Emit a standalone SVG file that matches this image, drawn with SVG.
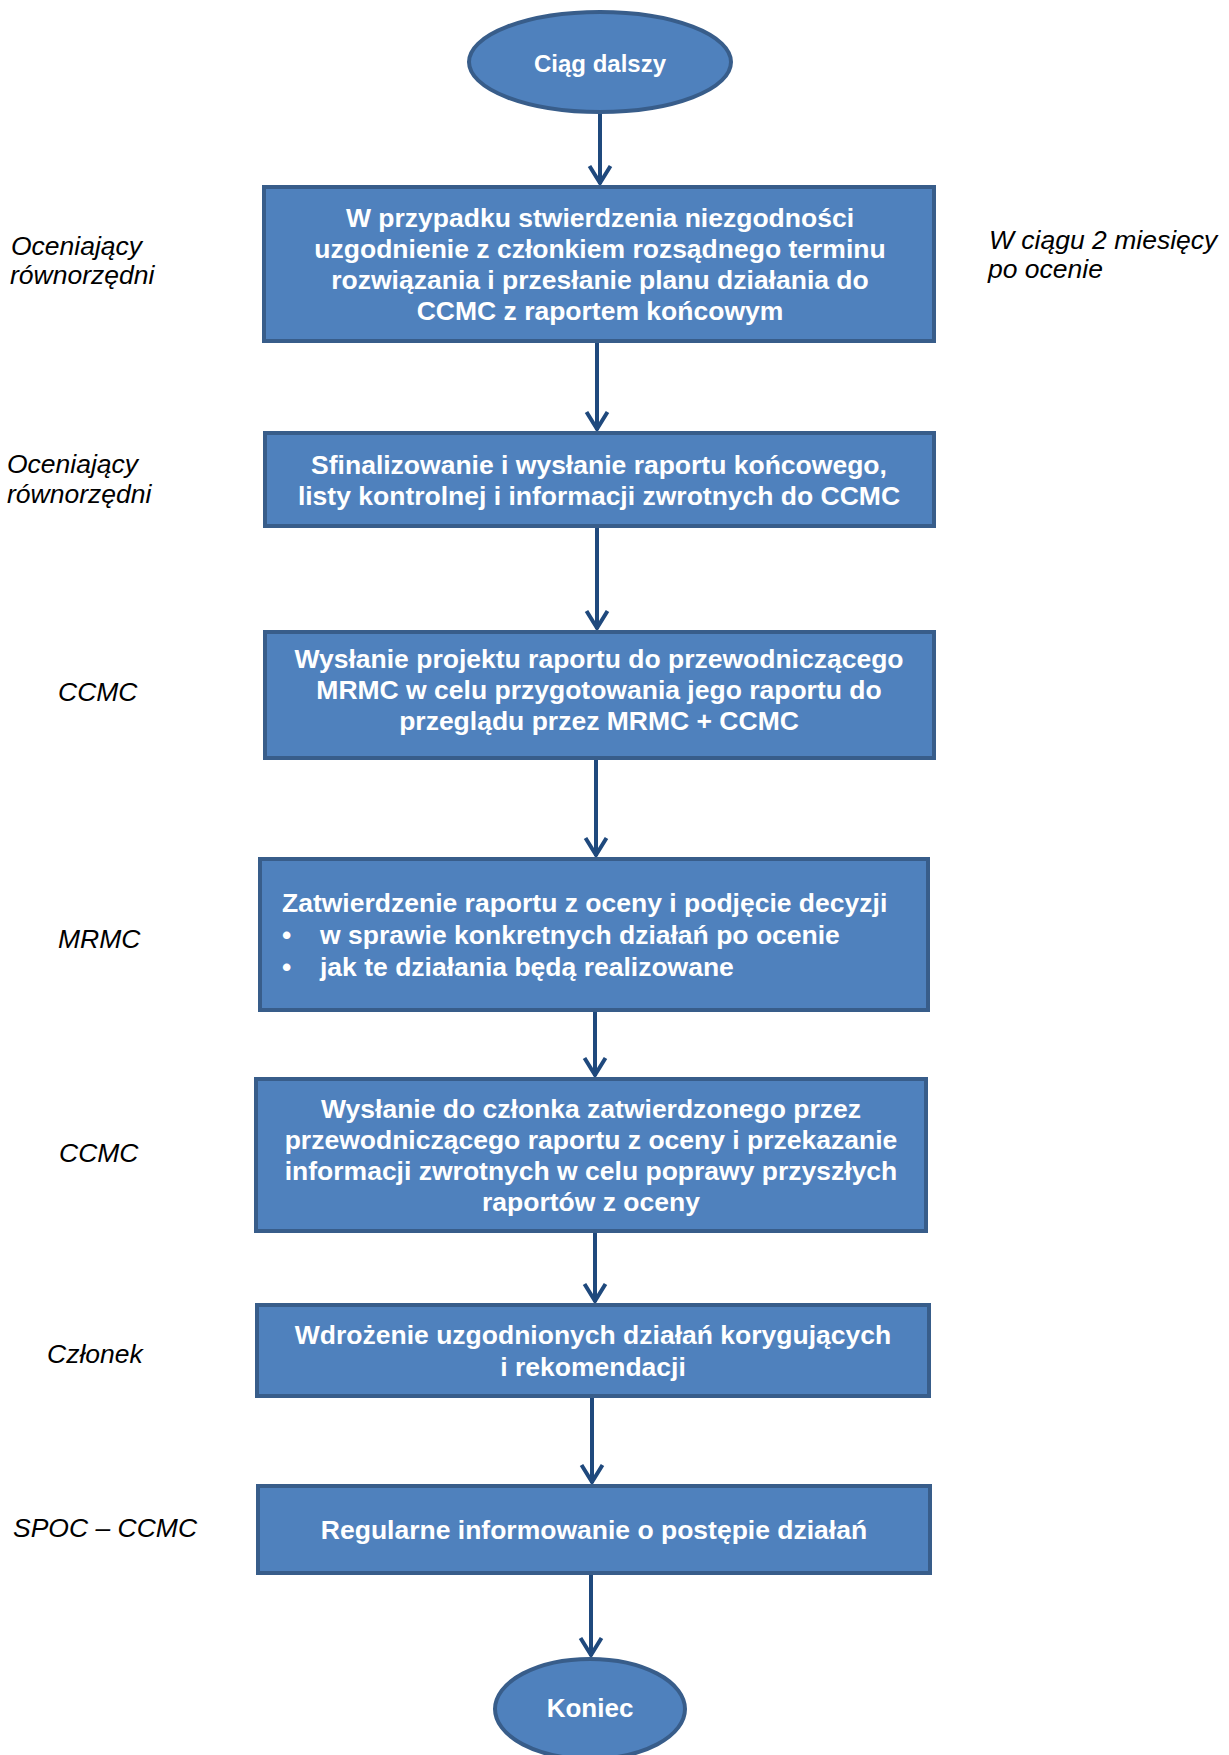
<svg xmlns="http://www.w3.org/2000/svg" width="1229" height="1755" viewBox="0 0 1229 1755">
  <defs>
    <style>
      .box { fill: #4F81BD; stroke: #385D8A; stroke-width: 4; }
      .term { fill: #4F81BD; stroke: #385D8A; stroke-width: 4; }
      .t { font-family: "Liberation Sans", Arial, sans-serif; font-weight: bold; font-size: 26.5px; fill: #FFFFFF; text-anchor: middle; }
      .tl { font-family: "Liberation Sans", Arial, sans-serif; font-weight: bold; font-size: 26.5px; fill: #FFFFFF; }
      .lab { font-family: "Liberation Sans", Arial, sans-serif; font-style: italic; font-size: 26.5px; fill: #000000; }
      .conn line { stroke: #1F497D; stroke-width: 4; fill: none; }
    </style>
    <!-- open V arrowhead, drawn along +x so orient="auto" points it down the line -->
    <marker id="vhead" viewBox="0 0 24 26" refX="21" refY="13" markerWidth="24" markerHeight="26" markerUnits="userSpaceOnUse" orient="auto">
      <path d="M3,2.5 L20,13 L3,23.5" fill="none" stroke="#1F497D" stroke-width="4" stroke-linejoin="miter"/>
    </marker>
  </defs>

  <rect width="1229" height="1755" fill="#FFFFFF"/>

  <!-- connectors -->
  <g id="connectors" class="conn">
    <line x1="600" y1="113" x2="600" y2="184" marker-end="url(#vhead)"/>
    <line x1="597" y1="343" x2="597" y2="430" marker-end="url(#vhead)"/>
    <line x1="597" y1="528" x2="597" y2="629" marker-end="url(#vhead)"/>
    <line x1="596" y1="760" x2="596" y2="856" marker-end="url(#vhead)"/>
    <line x1="595" y1="1012" x2="595" y2="1076" marker-end="url(#vhead)"/>
    <line x1="595" y1="1233" x2="595" y2="1302" marker-end="url(#vhead)"/>
    <line x1="592" y1="1398" x2="592" y2="1483" marker-end="url(#vhead)"/>
    <line x1="591" y1="1575" x2="591" y2="1656" marker-end="url(#vhead)"/>
  </g>

  <!-- start terminator -->
  <g id="start">
    <ellipse class="term" cx="600" cy="62" rx="131" ry="50"/>
    <text class="t" x="600" y="72" style="font-size:24px">Ciąg dalszy</text>
  </g>

  <g id="step1">
    <rect class="box" x="264" y="187" width="670" height="154"/>
    <text class="t" x="600" y="227">W przypadku stwierdzenia niezgodności</text>
    <text class="t" x="600" y="258">uzgodnienie z członkiem rozsądnego terminu</text>
    <text class="t" x="600" y="289">rozwiązania i przesłanie planu działania do</text>
    <text class="t" x="600" y="320">CCMC z raportem końcowym</text>
  </g>

  <g id="step2">
    <rect class="box" x="265" y="433" width="669" height="93"/>
    <text class="t" x="599" y="474">Sfinalizowanie i wysłanie raportu końcowego,</text>
    <text class="t" x="599" y="505">listy kontrolnej i informacji zwrotnych do CCMC</text>
  </g>

  <g id="step3">
    <rect class="box" x="265" y="632" width="669" height="126"/>
    <text class="t" x="599" y="668">Wysłanie projektu raportu do przewodniczącego</text>
    <text class="t" x="599" y="699">MRMC w celu przygotowania jego raportu do</text>
    <text class="t" x="599" y="730">przeglądu przez MRMC + CCMC</text>
  </g>

  <g id="step4">
    <rect class="box" x="260" y="859" width="668" height="151"/>
    <text class="tl" x="282" y="912">Zatwierdzenie raportu z oceny i podjęcie decyzji</text>
    <text class="tl" x="282" y="944">•</text>
    <text class="tl" x="320" y="944">w sprawie konkretnych działań po ocenie</text>
    <text class="tl" x="282" y="976">•</text>
    <text class="tl" x="320" y="976">jak te działania będą realizowane</text>
  </g>

  <g id="step5">
    <rect class="box" x="256" y="1079" width="670" height="152"/>
    <text class="t" x="591" y="1118">Wysłanie do członka zatwierdzonego przez</text>
    <text class="t" x="591" y="1149">przewodniczącego raportu z oceny i przekazanie</text>
    <text class="t" x="591" y="1180">informacji zwrotnych w celu poprawy przyszłych</text>
    <text class="t" x="591" y="1211">raportów z oceny</text>
  </g>

  <g id="step6">
    <rect class="box" x="257" y="1305" width="672" height="91"/>
    <text class="t" x="593" y="1344">Wdrożenie uzgodnionych działań korygujących</text>
    <text class="t" x="593" y="1376">i rekomendacji</text>
  </g>

  <g id="step7">
    <rect class="box" x="258" y="1486" width="672" height="87"/>
    <text class="t" x="594" y="1539">Regularne informowanie o postępie działań</text>
  </g>

  <!-- end terminator -->
  <g id="end">
    <ellipse class="term" cx="590" cy="1709" rx="95" ry="50"/>
    <text class="t" x="590" y="1717" style="font-size:26px">Koniec</text>
  </g>

  <!-- responsibility / timing annotations -->
  <g id="labels">
    <text class="lab" x="11" y="255">Oceniający</text>
    <text class="lab" x="10" y="284">równorzędni</text>
    <text class="lab" x="989" y="249">W ciągu 2 miesięcy</text>
    <text class="lab" x="988" y="278">po ocenie</text>
    <text class="lab" x="7" y="473">Oceniający</text>
    <text class="lab" x="7" y="503">równorzędni</text>
    <text class="lab" x="58" y="701">CCMC</text>
    <text class="lab" x="58" y="948">MRMC</text>
    <text class="lab" x="59" y="1162">CCMC</text>
    <text class="lab" x="47" y="1363">Członek</text>
    <text class="lab" x="13" y="1537">SPOC – CCMC</text>
  </g>
</svg>
